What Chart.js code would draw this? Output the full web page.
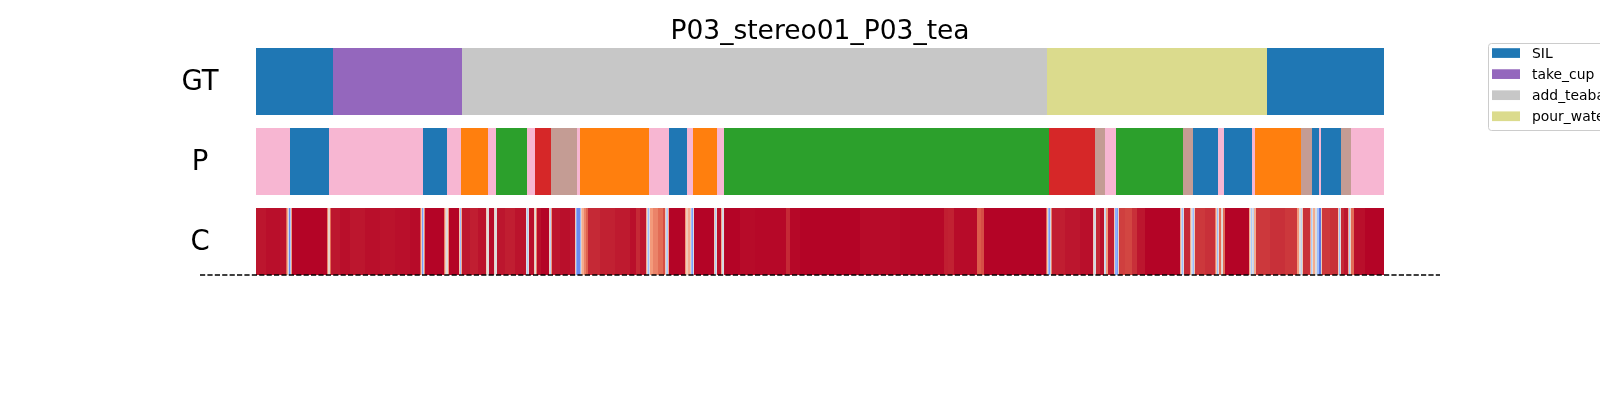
<!DOCTYPE html>
<html>
<head>
<meta charset="utf-8">
<script src="https://cdn.jsdelivr.net/npm/chart.js@4.4.1/dist/chart.umd.min.js"></script>
<style>
html,body{margin:0;padding:0;background:#fff;overflow:hidden;}
canvas{display:block;}
</style>
</head>
<body>
<canvas id="c" width="1600" height="400"></canvas>
<script>
// ---------------- data ----------------
const chartTitle = 'P03_stereo01_P03_tea';
const rowLabels = ['GT', 'P', 'C'];
const totalFrames = 1128;

// tab20 palette (class colours)
const tab20 = ['#1f77b4','#aec7e8','#ff7f0e','#ffbb78','#2ca02c','#98df8a','#d62728','#ff9896',
               '#9467bd','#c5b0d5','#8c564b','#c49c94','#e377c2','#f7b6d2','#7f7f7f','#c7c7c7',
               '#bcbd22','#dbdb8d','#17becf','#9edae5'];

const legendNames = ['SIL', 'take_cup', 'add_teabag', 'pour_water'];
const legendClasses = [0, 8, 15, 17];

// ground truth segments (start frame, class colour index)
const gtStarts  = [0, 77, 206, 791, 1011];
const gtClasses = [0, 8, 15, 17, 0];

// prediction segments
const pStarts  = [0, 34, 73, 167, 191, 205, 232, 240, 271, 279, 295, 321, 324, 393, 413, 431, 437, 461, 468,
                  793, 839, 849, 860, 927, 937, 962, 968, 996, 999, 1045, 1056, 1063, 1065, 1085, 1095];
const pClasses = [13, 0, 13, 0, 13, 2, 13, 4, 13, 6, 11, 13, 2, 13, 0, 13, 2, 13, 4,
                  6, 11, 13, 4, 11, 0, 13, 0, 13, 2, 11, 0, 13, 0, 11, 13];

// confidence runs (start frame, confidence value)
const confStarts = [
  0,10,24,30,31,32,33,34,35,36,71,72,74,75,84,94,109,124,139,154,164,165,166,167,168,169,
  188,189,190,192,193,203,204,205,206,214,222,230,231,233,238,239,241,249,259,270,271,272,273,278,279,280,281,285,
  293,294,295,296,304,314,319,320,321,324,325,326,328,330,332,344,359,374,380,384,390,391,392,393,394,397,402,407,
  409,410,411,412,413,429,430,432,434,435,436,437,438,458,459,460,461,465,466,467,468,469,484,499,530,534,544,604,644,
  688,692,698,721,725,728,790,791,792,793,794,795,796,809,824,837,838,839,840,844,848,849,850,852,858,859,861,862,863,
  869,876,881,889,924,925,926,927,928,934,935,936,937,938,939,949,959,960,961,962,963,965,966,967,969,993,994,995,996,
  997,998,1000,1014,1029,1041,1043,1045,1046,1047,1054,1055,1056,1057,1059,1061,1063,1065,1066,1074,1082,1083,1084,
  1085,1088,1092,1093,1094,1095,1098,1109];
const confValues = [
  0.975,0.985,0.98,0.85,0.7,0.45,0.15,0.35,0.75,1.0,0.8,0.55,0.85,0.975,0.985,0.975,0.985,0.98,0.985,0.99,0.85,0.6,0.2,0.4,0.8,1.0,
  0.8,0.6,0.5,0.75,1.0,0.6,0.3,0.7,0.975,0.965,0.98,0.6,0.5,0.99,0.55,0.5,0.975,0.965,0.98,0.5,0.35,0.5,0.985,0.6,0.5,0.8,0.985,1.0,
  0.55,0.4,0.75,0.975,0.985,0.975,0.6,0.25,0.15,0.3,0.6,0.7,0.8,0.87,0.95,0.96,0.97,0.985,0.95,0.975,0.7,0.45,0.3,0.5,0.75,0.8,0.85,0.9,
  0.6,0.4,0.35,0.7,1.0,0.75,0.6,0.7,0.6,0.3,0.2,0.5,1.0,0.6,0.35,0.5,0.985,0.7,0.45,0.5,0.99,1.0,0.99,0.995,0.95,0.995,1.0,0.99,0.995,
  0.965,0.96,0.99,0.88,0.9,1.0,0.85,0.6,0.3,0.2,0.45,0.8,0.965,0.975,0.985,0.6,0.45,0.5,0.95,0.985,0.5,0.4,0.75,0.965,0.6,0.25,0.2,0.55,0.92,
  0.91,0.94,0.975,1.0,0.7,0.45,0.3,0.5,0.95,0.7,0.5,0.4,0.3,0.6,0.93,0.94,0.8,0.6,0.3,0.5,0.85,0.55,0.5,0.85,1.0,0.7,0.5,0.35,0.5,
  0.4,0.7,0.93,0.94,0.93,0.75,0.5,0.4,0.6,0.94,0.7,0.35,0.5,0.7,0.5,0.3,0.1,0.6,0.93,0.94,0.6,0.3,0.5,
  0.95,0.975,0.7,0.35,0.55,0.85,0.985,1.0];

// ---------------- helpers ----------------
const cwStops = [[0,[58,76,192]],[0.125,[98,130,234]],[0.25,[141,176,254]],[0.375,[184,208,249]],
  [0.5,[221,220,220]],[0.625,[245,196,173]],[0.75,[244,154,123]],[0.875,[222,96,77]],[1,[180,4,38]]];
function coolwarm(v){
  v = Math.max(0, Math.min(1, v));
  for (let i = 1; i < cwStops.length; i++) {
    if (v <= cwStops[i][0]) {
      const [a, ca] = cwStops[i-1], [b, cb] = cwStops[i];
      const t = (v - a) / (b - a);
      const c = ca.map((x, k) => Math.round(x + (cb[k] - x) * t));
      return 'rgb(' + c.join(',') + ')';
    }
  }
  return 'rgb(180,4,38)';
}
function segs(starts, row){
  return starts.map((s, i) => ({ y: row, x: [s, i + 1 < starts.length ? starts[i + 1] : totalFrames] }));
}

const barStyle = { borderWidth: 0, barPercentage: 0.8375, categoryPercentage: 1.0, grouped: false };

const decor = {
  id: 'decor',
  afterDraw(chart){
    const ctx = chart.ctx;
    const yS = chart.scales.y;
    ctx.save();
    // title
    ctx.fillStyle = '#000';
    ctx.font = '26.5px "DejaVu Sans"';
    ctx.textAlign = 'center';
    ctx.textBaseline = 'alphabetic';
    ctx.fillText(chartTitle, (chart.chartArea.left + chart.chartArea.right) / 2, 39.3);
    // row labels
    ctx.font = '27.5px "DejaVu Sans"';
    rowLabels.forEach((lab, i) => {
      ctx.fillText(lab, 200, yS.getPixelForTick(i) + 8.6);
    });
    // dashed line at bottom of C row
    const cEl = chart.getDatasetMeta(2).data[0];
    const yLine = cEl.y + cEl.height / 2;
    ctx.strokeStyle = '#000';
    ctx.lineWidth = 1.4;
    ctx.setLineDash([5.2, 2.2]);
    ctx.beginPath();
    ctx.moveTo(200, yLine);
    ctx.lineTo(1440, yLine);
    ctx.stroke();
    ctx.setLineDash([]);
    // legend
    const lx = 1488.5, ly = 43.5, lh = 87;
    ctx.fillStyle = 'rgba(255,255,255,0.8)';
    ctx.strokeStyle = '#cccccc';
    ctx.lineWidth = 1;
    ctx.beginPath();
    ctx.roundRect(lx, ly, 200, lh, 3);
    ctx.fill();
    ctx.stroke();
    ctx.font = '13.9px "DejaVu Sans"';
    ctx.textAlign = 'left';
    legendNames.forEach((name, i) => {
      const cy = 53 + i * 21.07;
      ctx.fillStyle = tab20[legendClasses[i]];
      ctx.fillRect(1492, cy - 4.8, 28, 9.7);
      ctx.fillStyle = '#000';
      ctx.fillText(name, 1532, cy + 5.2);
    });
    ctx.restore();
  }
};

new Chart(document.getElementById('c'), {
  type: 'bar',
  data: {
    labels: rowLabels,
    datasets: [
      Object.assign({ label: 'GT', data: segs(gtStarts, 'GT'), backgroundColor: gtClasses.map(c => tab20[c]) }, barStyle),
      Object.assign({ label: 'P', data: segs(pStarts, 'P'), backgroundColor: pClasses.map(c => tab20[c]) }, barStyle),
      Object.assign({ label: 'C', data: segs(confStarts, 'C'), backgroundColor: confValues.map(coolwarm) }, barStyle)
    ]
  },
  options: {
    indexAxis: 'y',
    responsive: false,
    maintainAspectRatio: false,
    devicePixelRatio: 1,
    animation: false,
    events: [],
    layout: { padding: { left: 256, right: 216, top: 41.5, bottom: 118.5 } },
    scales: {
      x: { type: 'linear', min: 0, max: totalFrames, display: false },
      y: { type: 'category', display: false, offset: true }
    },
    plugins: { legend: { display: false }, title: { display: false }, tooltip: { enabled: false } }
  },
  plugins: [decor]
});
</script>
</body>
</html>
